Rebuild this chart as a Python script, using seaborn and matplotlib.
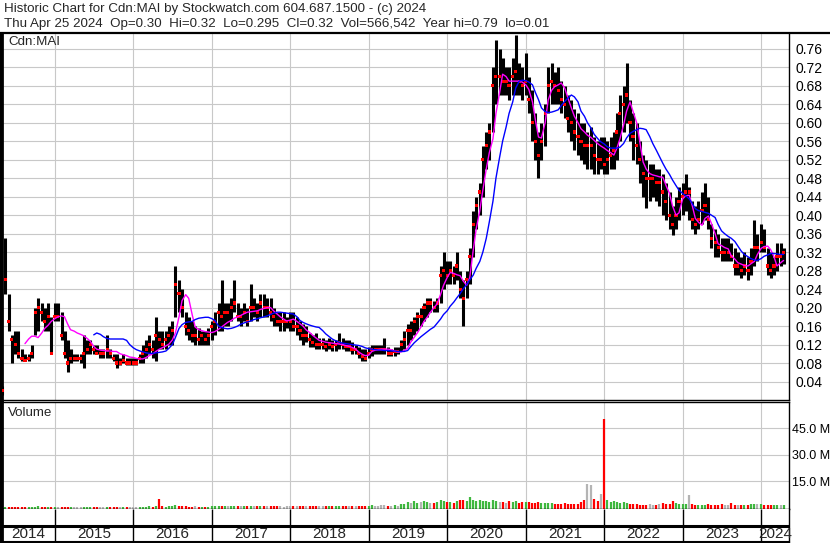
import numpy as np
import pandas as pd
import seaborn as sns
import matplotlib.pyplot as plt
from matplotlib.lines import Line2D

sns.set_style('white')
plt.rcParams['font.family'] = ['Liberation Sans', 'DejaVu Sans']

#half-month samples, May 2014 - Apr 2024
dates = pd.date_range('2014-05-01', periods=240, freq='SMS')

high = [.03,.35,.23,.14,.15,.15,.11,.10,.10,.12,.20,.22,.21,.20,.21,.18,
        .21,.21,.19,.15,.13,.11,.10,.10,.10,.14,.13,.13,.12,.12,.11,.11,.14,.11,.10,.10,.09,.10,.09,.09,
        .09,.09,.10,.12,.13,.14,.13,.18,.15,.15,.15,.16,.17,.29,.26,.24,.19,.18,.17,.16,.155,.15,.15,.155,
        .17,.19,.21,.26,.21,.21,.22,.26,.21,.20,.21,.20,.25,.22,.21,.23,.23,.22,.22,.20,.19,.19,.19,.18,
        .19,.19,.18,.17,.165,.16,.145,.14,.145,.135,.135,.13,.135,.13,.13,.145,.135,.13,.13,.125,.12,.115,.11,.11,
        .115,.12,.12,.12,.12,.135,.115,.11,.115,.115,.13,.15,.165,.17,.18,.19,.20,.21,.22,.22,.215,.22,.29,.32,
        .30,.30,.29,.32,.28,.26,.28,.33,.41,.44,.47,.55,.58,.60,.72,.78,.76,.74,.72,.72,.74,.79,.73,.72,
        .75,.70,.67,.62,.58,.60,.64,.72,.73,.71,.72,.69,.68,.66,.65,.63,.62,.60,.60,.58,.59,.57,.56,.57,
        .57,.56,.57,.58,.62,.66,.68,.73,.65,.62,.60,.56,.53,.52,.51,.51,.50,.50,.49,.47,.45,.42,.44,.46,
        .47,.49,.46,.43,.42,.43,.45,.47,.44,.38,.37,.36,.35,.35,.35,.34,.33,.32,.31,.32,.31,.33,.39,.36,
        .38,.37,.33,.32,.31,.34,.34,.33]

low = [.01,.23,.15,.08,.10,.09,.085,.085,.085,.09,.14,.15,.17,.15,.15,.10,
       .17,.17,.13,.09,.06,.08,.085,.085,.08,.07,.10,.10,.10,.10,.09,.09,.09,.09,.085,.07,.075,.08,.075,.075,
       .075,.075,.08,.08,.09,.10,.09,.085,.11,.11,.11,.12,.12,.18,.19,.18,.14,.13,.125,.12,.12,.12,.12,.12,
       .13,.14,.15,.15,.16,.16,.17,.19,.17,.16,.17,.16,.17,.18,.17,.18,.18,.18,.17,.16,.16,.15,.15,.155,
       .15,.15,.14,.13,.12,.125,.115,.115,.11,.11,.11,.105,.11,.105,.105,.11,.11,.105,.105,.10,.10,.09,.085,.085,
       .09,.095,.10,.10,.10,.10,.095,.095,.095,.10,.105,.11,.12,.13,.14,.15,.16,.17,.18,.19,.19,.19,.21,.24,
       .25,.25,.25,.26,.22,.16,.22,.25,.31,.37,.40,.44,.50,.52,.58,.64,.66,.66,.66,.65,.66,.66,.66,.65,
       .66,.62,.56,.52,.48,.52,.55,.62,.64,.64,.64,.62,.61,.58,.56,.54,.53,.52,.51,.50,.50,.49,.49,.50,
       .49,.49,.50,.50,.52,.56,.58,.60,.56,.52,.51,.47,.44,.415,.43,.44,.43,.42,.40,.39,.37,.356,.37,.39,
       .40,.41,.39,.37,.36,.37,.38,.39,.37,.33,.31,.31,.30,.30,.30,.30,.27,.27,.265,.27,.26,.27,.29,.30,
       .32,.32,.27,.265,.27,.28,.29,.295]

close = [.02,.26,.17,.13,.12,.10,.09,.085,.09,.10,.19,.20,.19,.17,.18,.10,
         .18,.18,.14,.10,.08,.09,.09,.09,.09,.10,.11,.12,.11,.10,.10,.10,.11,.10,.09,.08,.08,.085,.08,.08,
         .08,.08,.09,.10,.11,.12,.11,.14,.13,.12,.13,.14,.15,.25,.23,.20,.16,.15,.14,.14,.13,.14,.13,.14,
         .16,.17,.19,.18,.19,.19,.20,.21,.18,.18,.19,.17,.20,.20,.19,.21,.20,.20,.19,.18,.17,.17,.17,.17,
         .17,.16,.16,.15,.14,.14,.13,.125,.12,.12,.12,.115,.12,.115,.12,.125,.12,.115,.115,.11,.11,.10,.095,.09,
         .10,.11,.11,.11,.11,.11,.10,.10,.105,.105,.12,.13,.15,.15,.17,.18,.18,.20,.21,.21,.20,.21,.27,.28,
         .27,.28,.27,.29,.24,.22,.26,.31,.38,.42,.45,.52,.55,.58,.68,.70,.70,.69,.69,.68,.70,.71,.69,.68,
         .69,.65,.60,.56,.53,.56,.62,.68,.69,.68,.67,.65,.64,.61,.60,.58,.57,.56,.55,.55,.55,.53,.52,.52,
         .51,.52,.53,.54,.58,.62,.64,.66,.60,.57,.55,.52,.49,.48,.48,.48,.47,.47,.45,.43,.40,.38,.40,.43,
         .44,.45,.45,.39,.38,.39,.41,.42,.39,.35,.34,.33,.32,.32,.32,.31,.29,.29,.28,.29,.28,.30,.33,.33,
         .34,.33,.29,.28,.29,.31,.31,.32]

#short moving average (magenta)
ma_short = [np.nan]*7 + [.122,.132,.138,.138,.135,.145,.155,.162,.17,
    .176,.18,.182,.18,.165,.152,.149,.145,.142,.139,.133,.127,.116,.11,.108,.107,.106,.106,.105,.105,.10,.098,.096,.093,
    .092,.09,.089,.089,.092,.096,.10,.105,.11,.113,.117,.121,.13,.145,.18,.215,.228,.22,.185,.158,.152,.15,.148,.147,
    .146,.148,.153,.158,.163,.168,.172,.177,.18,.183,.187,.19,.191,.192,.193,.196,.198,.20,.20,.193,.186,.18,.175,.171,
    .173,.175,.17,.165,.16,.152,.146,.14,.134,.129,.127,.125,.124,.123,.122,.121,.12,.118,.116,.114,.11,.104,.099,.096,
    .097,.105,.108,.109,.11,.11,.11,.109,.106,.104,.104,.107,.112,.125,.136,.145,.158,.17,.18,.19,.20,.208,.228,.248,
    .265,.276,.274,.271,.269,.258,.248,.265,.323,.37,.41,.454,.50,.535,.565,.62,.665,.705,.70,.69,.69,.69,.69,.688,
    .682,.672,.645,.605,.569,.567,.60,.649,.67,.678,.682,.686,.675,.655,.632,.614,.60,.587,.58,.573,.568,.562,.555,.55,
    .545,.54,.535,.53,.545,.565,.595,.625,.645,.625,.60,.56,.515,.50,.49,.487,.485,.483,.482,.465,.447,.42,.40,.405,
    .435,.442,.443,.42,.393,.385,.378,.393,.398,.382,.36,.338,.334,.33,.327,.312,.305,.297,.294,.291,.29,.295,.30,.315,
    .328,.332,.333,.325,.31,.29,.297,.302]

#long moving average (blue)
ma_long = [np.nan]*28 + [.141,.145,.142,.137,.133,.132,.132,.132,.132,.132,.129,.12,
    .113,.109,.106,.104,.102,.101,.101,.102,.103,.104,.106,.112,.12,.135,.155,.163,.168,.169,.17,.174,.177,.178,.179,.179,
    .176,.172,.16,.157,.155,.154,.155,.157,.16,.164,.167,.169,.171,.174,.176,.178,.18,.182,.185,.188,.19,.19,.189,.188,
    .187,.186,.18,.172,.168,.165,.162,.16,.158,.157,.15,.143,.137,.132,.128,.125,.123,.122,.121,.12,.119,.118,.116,.113,
    .111,.11,.109,.108,.108,.107,.107,.106,.106,.105,.105,.105,.107,.115,.124,.13,.137,.142,.148,.153,.158,.166,.175,.185,
    .193,.203,.212,.221,.23,.24,.25,.26,.27,.285,.30,.32,.35,.385,.43,.48,.525,.56,.59,.62,.645,.675,.69,.692,
    .691,.688,.682,.665,.65,.632,.624,.622,.623,.625,.628,.637,.646,.653,.66,.656,.645,.625,.614,.60,.588,.575,.566,.559,
    .554,.548,.545,.545,.545,.547,.555,.567,.577,.581,.585,.588,.587,.585,.57,.555,.54,.527,.512,.50,.488,.476,.464,.454,
    .447,.442,.435,.425,.414,.41,.408,.406,.404,.40,.395,.38,.366,.36,.354,.35,.343,.333,.322,.315,.31,.306,.303,.302,
    .306,.311,.314,.317,.317,.316,.315,.315]

#volume, millions
volume = [1.8,.5,.4,.3,.3,.3,.2,.2,.3,.3,.5,.6,.4,.4,.3,.3,
          .3,.3,.4,.3,.5,.3,.2,.2,.3,.4,.3,.3,.2,.3,.2,.2,.4,.3,.2,.3,.2,.2,.3,.3,
          .3,.2,.3,.4,.5,.6,.5,.7,4.8,.6,.5,.6,.7,1.2,1.0,.8,.7,.5,.5,.6,.5,.4,.5,.5,
          .6,.7,.8,1.0,.8,.7,.8,.9,.7,.6,.7,.6,.9,.8,.7,.9,.8,.7,.7,.6,.6,.6,.5,.6,
          .6,.6,.7,.8,.9,.8,.7,.8,.7,.6,.7,.6,.7,.8,.7,1.0,.8,.7,.7,.6,.7,.8,.9,1.0,
          1.0,1.2,1.1,1.0,1.2,1.5,1.0,1.1,1.2,1.0,1.8,2.2,3.0,2.5,3.5,2.8,3.2,3.6,3.0,2.8,2.5,3.0,4.0,3.5,
          3.0,3.2,2.8,3.5,4.2,4.5,3.8,6.0,4.5,3.8,4.0,3.5,3.6,3.2,4.2,3.8,3.0,3.2,2.8,3.5,3.0,3.8,2.8,3.2,
          3.0,3.2,2.6,2.8,3.0,2.5,2.4,2.8,2.6,2.2,2.0,2.2,2.5,2.0,1.8,2.0,2.2,3.0,4.2,13.3,13.0,5.0,3.5,7.6,
          50.0,4.0,3.2,3.5,3.0,2.8,3.0,2.5,2.2,2.0,1.8,1.6,1.5,1.6,1.8,1.5,1.6,1.8,2.5,2.0,2.2,3.7,2.5,2.0,
          2.2,1.8,7.0,1.8,1.5,1.6,1.4,1.5,1.8,1.4,1.2,1.5,2.0,1.6,1.4,2.8,1.5,1.4,1.6,1.5,1.4,1.8,2.0,1.8,
          1.8,1.6,1.5,1.6,1.4,1.5,1.4,1.3]

price_ticks = np.round(np.arange(1, 20) * 0.04, 2)
vol_ticks = [15, 30, 45]
year_labels = [str(y) for y in range(2014, 2025)]
line1 = 'Historic Chart for Cdn:MAI by Stockwatch.com 604.687.1500 - (c) 2024'
line2 = 'Thu Apr 25 2024  Op=0.30  Hi=0.32  Lo=0.295  Cl=0.32  Vol=566,542  Year hi=0.79  lo=0.01'

df = pd.DataFrame({'date': dates, 'high': high, 'low': low, 'close': close,
                   'ma_short': ma_short, 'ma_long': ma_long, 'volume': volume})
chg = df['close'].diff().fillna(0)
vcol = np.where(chg > 0, '#3fb83f', np.where(chg < 0, '#ff0000', '#b4b4b4'))

W, H = 830, 543
fig = plt.figure(figsize=(W / 100, H / 100), dpi=100)

def box(top, bottom):
    return [2 / W, 1 - bottom / H, 787 / W, (bottom - top) / H]

ax = fig.add_axes(box(34, 400))
axv = fig.add_axes(box(402, 509))
axx = fig.add_axes(box(509, 542))

x0, x1 = pd.Timestamp('2014-04-30'), pd.Timestamp('2024-05-10')
years = pd.date_range('2015-01-01', '2024-01-01', freq='YS')
grid = '#c8c8c8'
vbot = -0.85

#price panel
ax.vlines(df['date'], df['low'], df['high'], color='black', lw=2.2, zorder=2)
sns.scatterplot(x=df['date'], y=df['close'], marker='s', s=5, color='red',
                edgecolor='none', ax=ax, zorder=3)
sns.lineplot(x=df['date'], y=df['ma_short'], color='#ff00ff', lw=1, ax=ax, zorder=4)
sns.lineplot(x=df['date'], y=df['ma_long'], color='#0000ff', lw=1, ax=ax, zorder=5)
ax.set_ylim(0, 0.792)
ax.set_yticks(price_ticks)
ax.set_yticklabels(['%.2f' % t for t in price_ticks])

#volume panel
axv.vlines(df['date'], vbot, df['volume'], colors=vcol, lw=1.6, zorder=2)
axv.set_ylim(vbot, 59.8)
axv.set_yticks(vol_ticks)
axv.set_yticklabels(['%.1f M' % t for t in vol_ticks])

for a in (ax, axv):
    a.set_xlim(x0, x1)
    a.set_xticks(years)
    a.set_xticklabels([])
    a.set_xlabel('')
    a.set_ylabel('')
    a.grid(True, color=grid, lw=0.8, zorder=0)
    a.yaxis.tick_right()
    a.tick_params(length=0, pad=5, labelsize=10, labelcolor='black')
    for s in a.spines.values():
        s.set_color('black')
        s.set_linewidth(1)
    a.spines['left'].set_linewidth(2)
ax.spines['top'].set_visible(False)
axv.tick_params(pad=2, labelsize=9)

#year strip
axx.set_xlim(x0, x1)
axx.set_ylim(33, 0)
axx.set_xticks([])
axx.set_yticks([])
axx.vlines(years, 0, 33, color='black', lw=1)
axx.axhline(17, color='black', lw=2.2)
for s in axx.spines.values():
    s.set_color('black')
    s.set_linewidth(1)
axx.spines['top'].set_visible(False)
axx.spines['left'].set_linewidth(2)
axx.spines['bottom'].set_linewidth(1.5)
edges = [x0] + list(years) + [x1]
for lab, a, b in zip(year_labels, edges[:-1], edges[1:]):
    axx.text(a + (b - a) / 2, 25.5, lab, ha='center', va='center', fontsize=11)

fig.add_artist(Line2D([0, 1], [1 - 33 / H] * 2, color='black', lw=1.6))
fig.add_artist(Line2D([1 / W] * 2, [0, 1 - 33 / H], color='black', lw=1.5))
fig.text(4 / W, 1 - 9 / H, line1, fontsize=9.6, va='center')
fig.text(4 / W, 1 - 24 / H, line2, fontsize=9.6, va='center')
fig.text(8 / W, 1 - 42 / H, 'Cdn:MAI', fontsize=9.6, va='center')
fig.text(8 / W, 1 - 413 / H, 'Volume', fontsize=9.6, va='center')

fig.savefig('out.png', dpi=100)
